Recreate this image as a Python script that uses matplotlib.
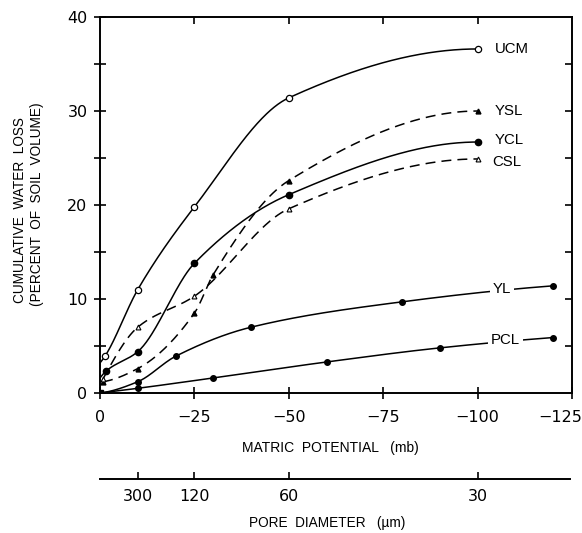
import numpy as np
import matplotlib
matplotlib.use("Agg")
import matplotlib.pyplot as plt
from matplotlib.transforms import ScaledTranslation

# matric potential (mb) and cumulative water loss (% of soil volume)
ucm_x = [0, -1.3, -10, -25, -50, -100]
ucm_y = [3.2, 3.9, 11.0, 19.8, 31.4, 36.6]

ysl_x = [-0.8, -10, -25, -30, -50, -100]
ysl_y = [1.2, 2.6, 8.5, 12.6, 22.6, 30.0]

ycl_x = [0, -1.5, -10, -25, -50, -100]
ycl_y = [1.6, 2.3, 4.4, 13.8, 21.1, 26.7]

csl_x = [-0.8, -10, -25, -50, -100]
csl_y = [1.5, 7.0, 10.3, 19.6, 24.9]

yl_x = [0, -10, -20, -40, -80, -120]
yl_y = [0, 1.2, 3.9, 7.0, 9.7, 11.4]

pcl_x = [0, -10, -30, -60, -90, -120]
pcl_y = [0, 0.5, 1.6, 3.3, 4.8, 5.9]

pore_um = [300, 120, 60, 30]

LBL = ['Liberation Sans', 'DejaVu Sans']
TCK = ['DejaVu Sans']


def pchip(x, y, xn):
    # monotone cubic, used only to draw a smooth line through the points
    x = np.asarray(x, float)
    y = np.asarray(y, float)
    h = np.diff(x)
    d = np.diff(y) / h
    n = len(x)
    m = np.zeros(n)
    for k in range(1, n - 1):
        if d[k - 1] * d[k] > 0:
            w1 = 2 * h[k] + h[k - 1]
            w2 = h[k] + 2 * h[k - 1]
            m[k] = (w1 + w2) / (w1 / d[k - 1] + w2 / d[k])
    m[0] = ((2 * h[0] + h[1]) * d[0] - h[0] * d[1]) / (h[0] + h[1])
    if np.sign(m[0]) != np.sign(d[0]):
        m[0] = 0
    m[-1] = ((2 * h[-1] + h[-2]) * d[-1] - h[-1] * d[-2]) / (h[-1] + h[-2])
    if np.sign(m[-1]) != np.sign(d[-1]):
        m[-1] = 0
    i = np.clip(np.searchsorted(x, xn) - 1, 0, n - 2)
    t = (xn - x[i]) / h[i]
    h00 = 2 * t**3 - 3 * t**2 + 1
    h10 = t**3 - 2 * t**2 + t
    h01 = -2 * t**3 + 3 * t**2
    h11 = t**3 - t**2
    return h00 * y[i] + h10 * h[i] * m[i] + h01 * y[i + 1] + h11 * h[i] * m[i + 1]


def curve(ax, xs, ys, dashed=False):
    u = -np.asarray(xs, float)
    un = np.linspace(u[0], u[-1], 400)
    yn = pchip(u, ys, un)
    ls = dict(dashes=(6.5, 4)) if dashed else {}
    ax.plot(-un, yn, color="black", lw=1.1, zorder=2, **ls)


fig = plt.figure(figsize=(5.82, 5.33), dpi=100)
ax = fig.add_axes([100 / 582, 1 - 393 / 533, 472 / 582, 376 / 533])

curve(ax, ucm_x, ucm_y)
curve(ax, ysl_x, ysl_y, dashed=True)
curve(ax, ycl_x, ycl_y)
curve(ax, csl_x, csl_y, dashed=True)
curve(ax, yl_x, yl_y)
curve(ax, pcl_x, pcl_y)

ax.plot(ucm_x[1:], ucm_y[1:], "o", ms=4.5, mfc="white", mec="black", mew=0.9, zorder=3)
ax.plot(ysl_x, ysl_y, "^", ms=3.5, color="black", zorder=3)
ax.plot(ycl_x[1:], ycl_y[1:], "o", ms=4.5, color="black", zorder=3)
ax.plot(csl_x, csl_y, "^", ms=3.5, mfc="white", mec="black", mew=0.8, zorder=3)
ax.plot(yl_x, yl_y, "o", ms=4, color="black", zorder=3)
ax.plot(pcl_x, pcl_y, "o", ms=4, color="black", zorder=3)
ax.plot([0], [0], "s", ms=4.5, color="black", zorder=4)

# curve labels
box = dict(facecolor="white", edgecolor="none", pad=2)
lfs = 10.8
ax.text(-104.6, ucm_y[-1], "UCM", family=LBL, fontsize=lfs, va="center", ha="left")
ax.text(-104.6, ysl_y[-1], "YSL", family=LBL, fontsize=lfs, va="center", ha="left")
ax.text(-104.6, ycl_y[-1] + 0.2, "YCL", family=LBL, fontsize=lfs, va="center", ha="left")
ax.text(-104.0, csl_y[-1] - 0.3, "CSL", family=LBL, fontsize=lfs, va="center", ha="left")
ax.text(-104.0, 11.1, "YL", family=LBL, fontsize=lfs, va="center", ha="left", bbox=box, zorder=5)
ax.text(-103.5, 5.6, "PCL", family=LBL, fontsize=lfs, va="center", ha="left", bbox=box, zorder=5)

ax.set_xlim(0, -125)
ax.set_ylim(0, 40)
ax.set_xticks([0, -25, -50, -75, -100, -125])
ax.set_yticks([0, 10, 20, 30, 40])
ax.set_yticks([5, 15, 25, 35], minor=True)
for s in ax.spines.values():
    s.set_linewidth(1.4)
ax.tick_params(which="both", direction="inout", length=8, width=1.2,
               labelsize=11.5, top=True, right=True, pad=5)
ax.tick_params(axis="x", pad=8)
ax.tick_params(which="minor", length=8)
for lab in ax.get_xticklabels() + ax.get_yticklabels():
    lab.set_family(TCK)
# last x label sits partly past the frame, as in the original
last = ax.get_xticklabels()[-1]
last.set_transform(last.get_transform() + ScaledTranslation(-12 / 100, 0, fig.dpi_scale_trans))
# top and right ticks point inward only
for t in ax.xaxis.get_major_ticks():
    t.tick2line.set_marker(3)
    t.tick2line.set_markersize(5)
for t in ax.yaxis.get_major_ticks() + ax.yaxis.get_minor_ticks():
    t.tick2line.set_marker(0)
    t.tick2line.set_markersize(5)
ax.xaxis.get_major_ticks()[0].tick2line.set_visible(False)
ax.xaxis.get_major_ticks()[-1].tick2line.set_visible(False)
ax.yaxis.get_major_ticks()[0].tick2line.set_visible(False)
ax.yaxis.get_major_ticks()[-1].tick2line.set_visible(False)

fig.text(330 / 582, 1 - 448 / 533, "MATRIC  POTENTIAL   (mb)", family=LBL, fontsize=10,
         ha="center", va="center")
fig.text(20 / 582, 1 - 210 / 533, "CUMULATIVE  WATER  LOSS", family=LBL, fontsize=9.8,
         ha="center", va="center", rotation=90)
fig.text(37 / 582, 1 - 204 / 533, "(PERCENT  OF  SOIL  VOLUME)", family=LBL, fontsize=9.8,
         ha="center", va="center", rotation=90)

# pore diameter scale, d = 3000 / |h|
ax2 = fig.add_axes([100 / 582, 1 - 479 / 533, 470 / 582, 0.001])
ax2.set_xlim(0, -125 * 470 / 472)
ax2.patch.set_visible(False)
for k in ["top", "left", "right"]:
    ax2.spines[k].set_visible(False)
ax2.spines["bottom"].set_linewidth(1.4)
ax2.set_yticks([])
ax2.set_xticks([-3000 / d for d in pore_um])
ax2.set_xticklabels([str(d) for d in pore_um], family=TCK)
ax2.tick_params(axis="x", direction="in", length=5, width=1.2, labelsize=11.5, pad=7)
fig.text(327 / 582, 1 - 523 / 533, "PORE  DIAMETER   (\u00b5m)", family=LBL, fontsize=9.8,
         ha="center", va="center")

fig.savefig("out.png", dpi=100)
